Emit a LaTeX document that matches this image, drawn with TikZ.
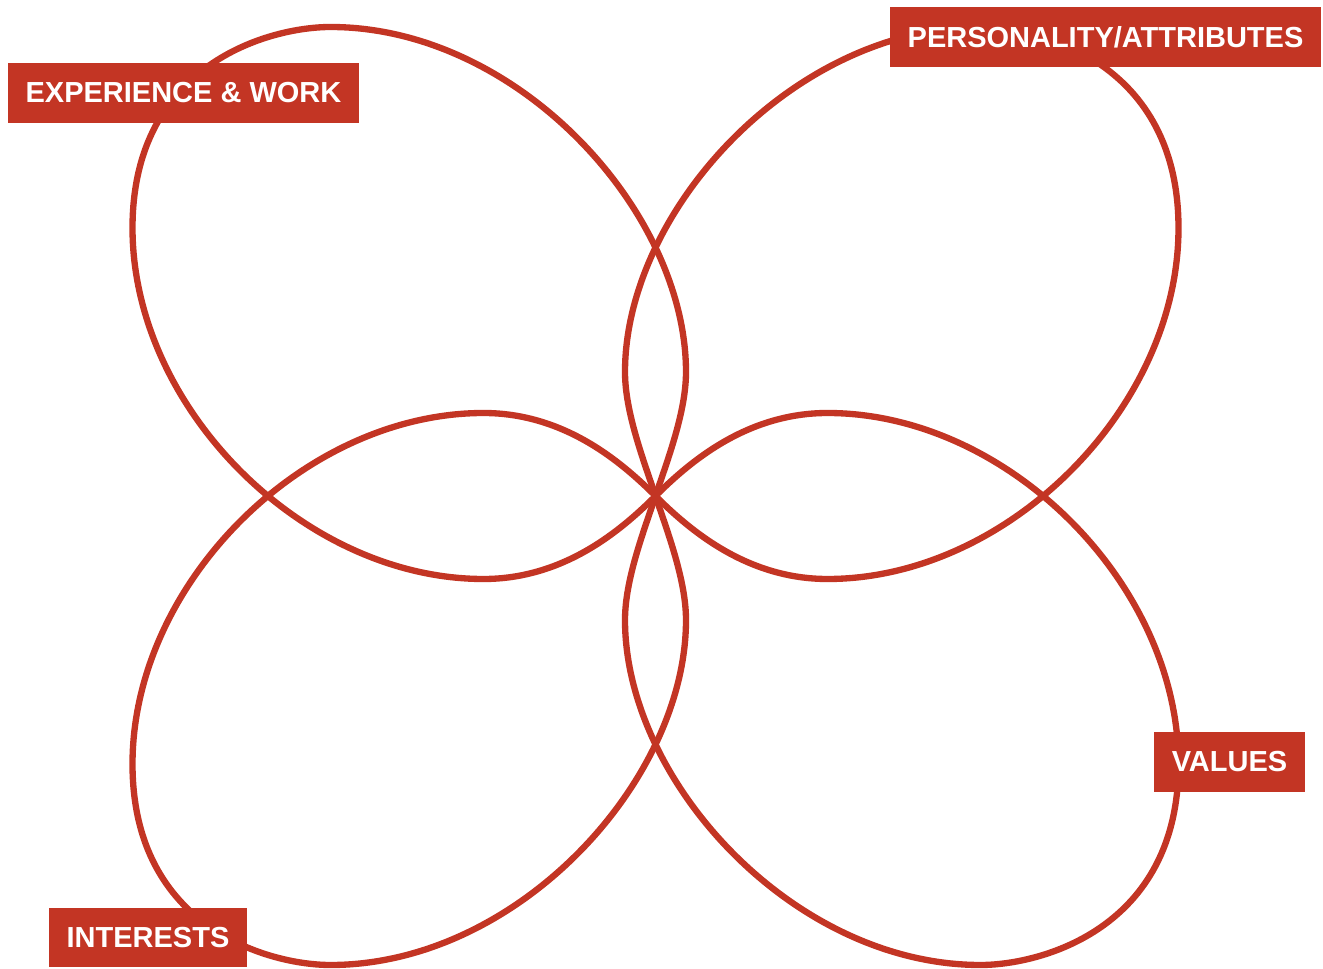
\documentclass[tikz,border=0pt]{standalone}
\usepackage{fontspec}
\setmainfont{Liberation Sans}
\definecolor{petalred}{RGB}{195,53,36}
\begin{document}
\begin{tikzpicture}
  [x=0.02cm,y=0.02cm,
   petal/.style={draw=petalred,line width=3.6pt,line join=round},
   tag/.style={fill=petalred,text=white,font=\fontsize{16.5}{20}\selectfont\bfseries,
     inner xsep=0.36cm,inner ysep=0pt,minimum height=1.2cm}]
  \useasboundingbox (0,0) rectangle (1323,968);
  \coordinate (c) at (655.5,472);

  % four petals, one mirrored into each quarter
  \foreach \sx/\sy in {1/1,-1/1,1/-1,-1/-1}
    \draw[petal,shift={(c)},xscale=\sx,yscale=\sy]
      (0,0) .. controls (12,36) and (30.5,84) .. (30.5,124)
      .. controls (30.5,285) and (-138,469) .. (-325,469)
      .. controls (-385,469) and (-523,433) .. (-523,268)
      .. controls (-523,88) and (-352,-83) .. (-172,-83)
      .. controls (-92,-83) and (-35,-35) .. (0,0) -- cycle;

  \node[tag] (work) at (183.5,875) {EXPERIENCE \& WORK};
  \node[tag] (personality) at (1105.5,931) {PERSONALITY/ATTRIBUTES};
  \node[tag] (values) at (1229.5,206) {VALUES};
  \node[tag] (interests) at (148,30.5) {INTERESTS};
\end{tikzpicture}
\end{document}
